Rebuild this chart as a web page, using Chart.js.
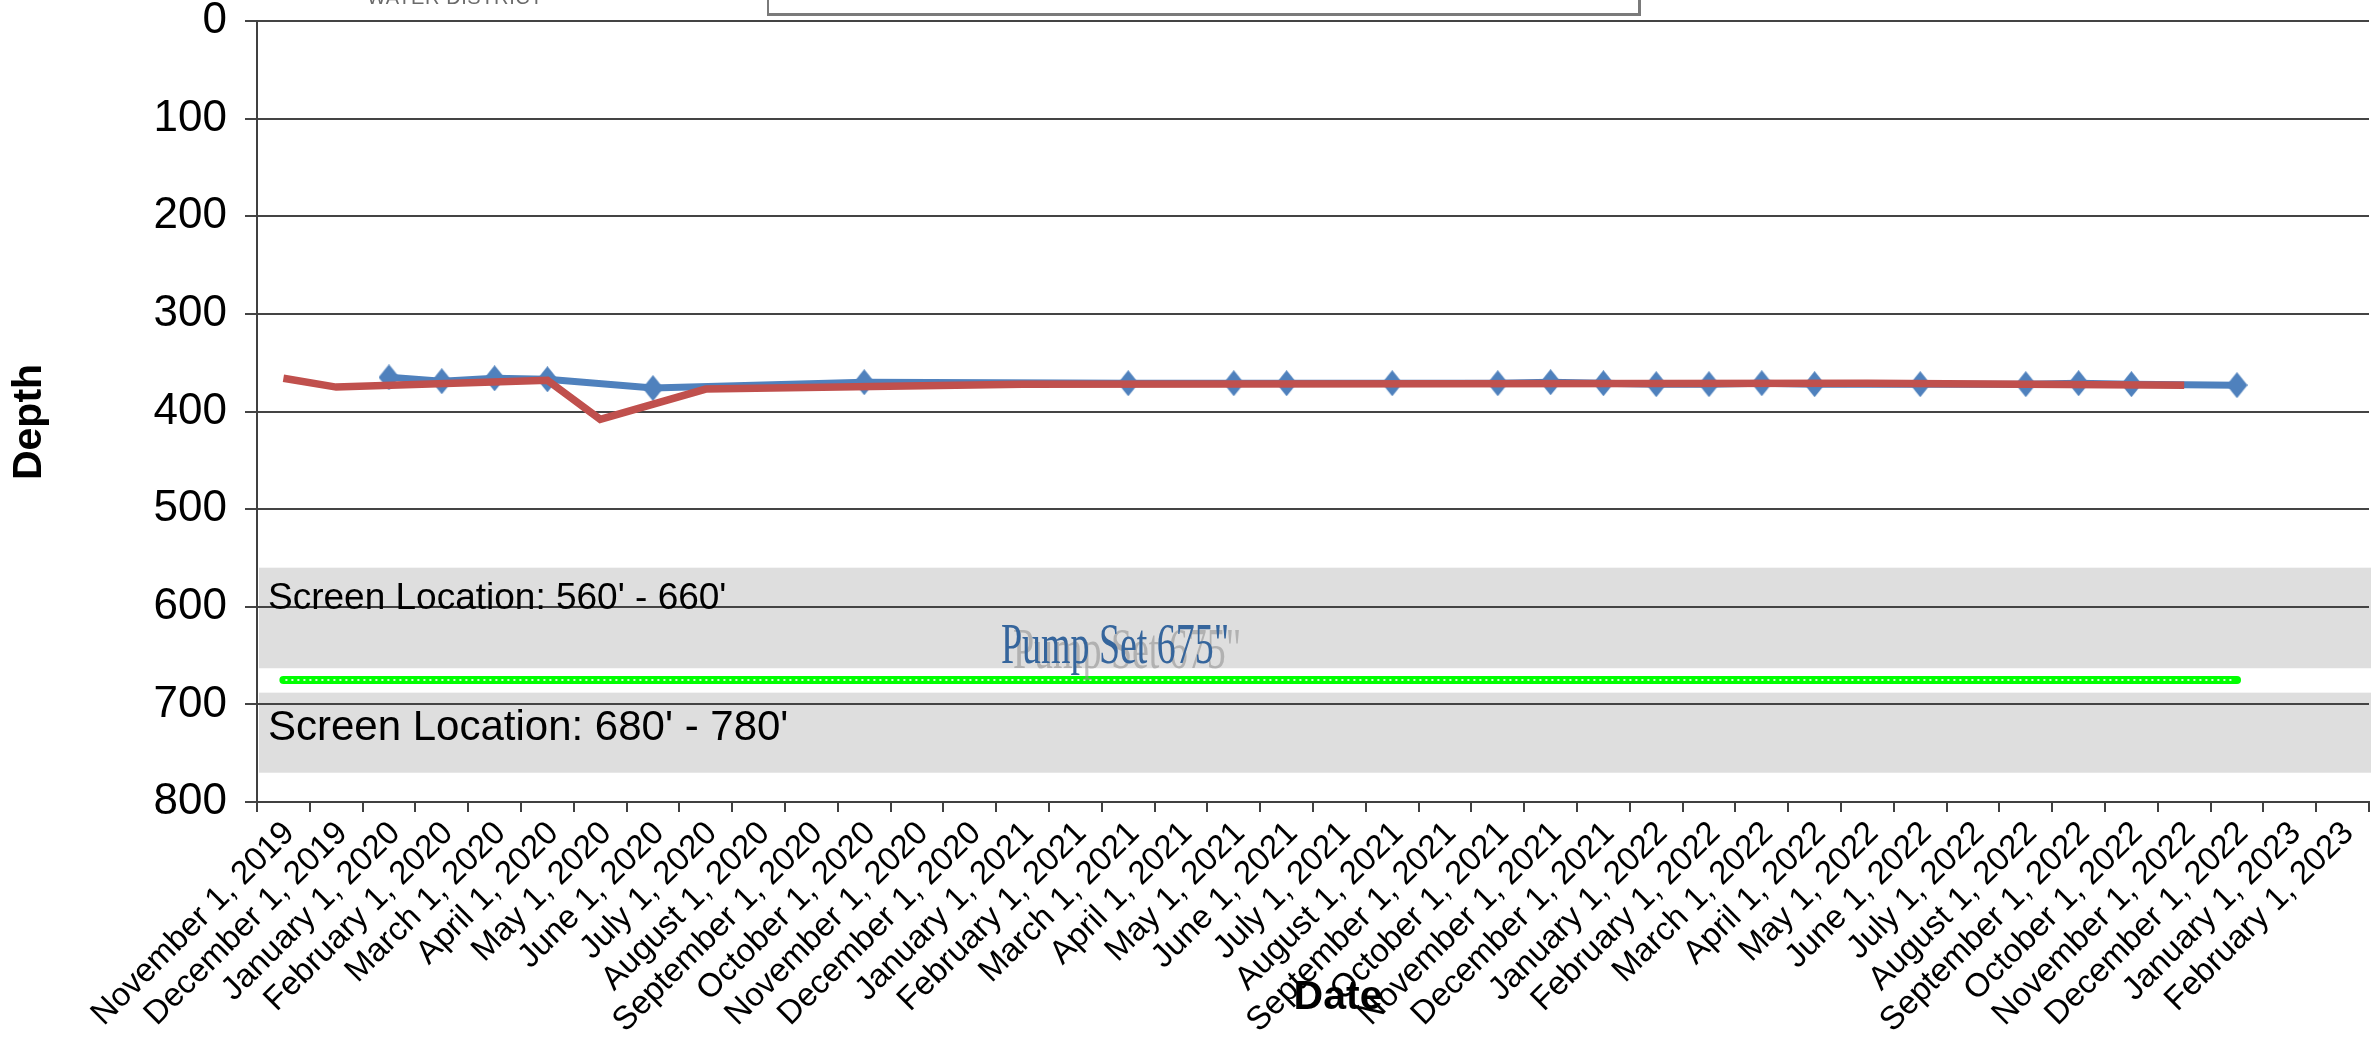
<!DOCTYPE html>
<html>
<head>
<meta charset="utf-8">
<script src="https://cdn.jsdelivr.net/npm/chart.js@4.4.1/dist/chart.umd.min.js"></script>
<style>
  html, body { margin: 0; padding: 0; background: #fff; overflow: hidden; }
  #wrap { position: relative; width: 2387px; height: 1037px; }
  #logo { position: absolute; left: 367px; top: -13px; font: 20px 'Liberation Sans', Arial, sans-serif; letter-spacing: 0.6px; color: #6b6b6b; line-height: 20px; white-space: nowrap; }
  #titlebox { position: absolute; left: 767px; top: -40px; width: 869px; height: 51px; border: 2px solid #7a7a7a; border-right-width: 3px; border-bottom-width: 3px; background: #fff; }
</style>
</head>
<body>
<div id="wrap">
  <canvas id="depth-chart"></canvas>
  <div id="logo">WATER DISTRICT</div>
  <div id="titlebox"></div>
</div>
<script>
// one category per month, points sit in the middle of their month
const months = [
  'November 1, 2019', 'December 1, 2019', 'January 1, 2020', 'February 1, 2020',
  'March 1, 2020', 'April 1, 2020', 'May 1, 2020', 'June 1, 2020', 'July 1, 2020',
  'August 1, 2020', 'September 1, 2020', 'October 1, 2020', 'November 1, 2020',
  'December 1, 2020', 'January 1, 2021', 'February 1, 2021', 'March 1, 2021',
  'April 1, 2021', 'May 1, 2021', 'June 1, 2021', 'July 1, 2021', 'August 1, 2021',
  'September 1, 2021', 'October 1, 2021', 'November 1, 2021', 'December 1, 2021',
  'January 1, 2022', 'February 1, 2022', 'March 1, 2022', 'April 1, 2022',
  'May 1, 2022', 'June 1, 2022', 'July 1, 2022', 'August 1, 2022',
  'September 1, 2022', 'October 1, 2022', 'November 1, 2022', 'December 1, 2022',
  'January 1, 2023', 'February 1, 2023'
]

// measured depth (blue, diamonds)
const measuredDepth = [
  null, null, 365, 369, 366, 367, null, 376, null, null,
  null, 370, null, null, null, null, 371, null, 371, 371,
  null, 371, null, 371, 370, 371, 372, 372, 371, 372,
  null, 372, null, 372, 371, 372, null, 373, null, null
]

// second depth record (red line)
const recordedDepth = [
  366, 375, null, null, null, 368, 408, null, 377, null,
  null, null, null, null, 372, null, null, null, null, null,
  null, null, null, null, null, null, null, null, null, null,
  371, null, null, null, null, null, 373, null, null, null
]

const pumpDepth = 675
const pumpFrom = 0
const pumpTo = 37
const pumpLine = months.map((m, i) => (i === pumpFrom || i === pumpTo) ? pumpDepth : null)

const depthTicks = [0, 100, 200, 300, 400, 500, 600, 700, 800]

// screen intervals drawn as grey bands
const screenBands = [[560, 663], [688, 770]]

// excel style diamond, a bit taller than wide
function diamond(w, h, color) {
  const c = document.createElement('canvas')
  c.width = w
  c.height = h
  const g = c.getContext('2d')
  g.fillStyle = color
  g.beginPath()
  g.moveTo(w / 2, 0)
  g.lineTo(w, h / 2)
  g.lineTo(w / 2, h)
  g.lineTo(0, h / 2)
  g.closePath()
  g.fill()
  return c
}

const bandsPlugin = {
  id: 'bands',
  beforeDraw(chart) {
    const {ctx, chartArea, scales: {y}} = chart
    ctx.save()
    ctx.fillStyle = '#dedede'
    screenBands.forEach(b => {
      const top = y.getPixelForValue(b[0])
      const bottom = y.getPixelForValue(b[1])
      ctx.fillRect(chartArea.left + 2, top, chartArea.right - chartArea.left, bottom - top)
    })
    ctx.restore()
  },
  afterDatasetsDraw(chart) {
    const {ctx} = chart
    const pts = chart.getDatasetMeta(2).data
    const a = pts[pumpFrom], b = pts[pumpTo]
    ctx.save()
    ctx.strokeStyle = 'rgba(255,255,255,0.85)'
    ctx.lineWidth = 2
    ctx.setLineDash([2, 4])
    ctx.beginPath()
    ctx.moveTo(a.x + 2, a.y)
    ctx.lineTo(b.x - 2, b.y)
    ctx.stroke()
    ctx.restore()
  },
  afterDraw(chart) {
    const {ctx, scales: {y}} = chart
    ctx.save()
    ctx.fillStyle = '#000'
    ctx.textBaseline = 'alphabetic'
    ctx.textAlign = 'left'
    ctx.font = "37px 'Liberation Sans', Arial, sans-serif"
    ctx.fillText("Screen Location: 560' - 660'", 268, y.getPixelForValue(602))
    ctx.font = "42px 'Liberation Sans', Arial, sans-serif"
    ctx.fillText("Screen Location: 680' - 780'", 268, y.getPixelForValue(736))

    // pump label, squeezed serif with a grey shadow
    const py = y.getPixelForValue(658)
    ctx.font = "57px 'Liberation Serif', 'Times New Roman', serif"
    ctx.save()
    ctx.translate(1013, py + 5)
    ctx.scale(0.665, 1)
    ctx.fillStyle = 'rgba(140,140,140,0.55)'
    ctx.fillText('Pump Set 675"', 0, 0)
    ctx.restore()
    ctx.save()
    ctx.translate(1001, py)
    ctx.scale(0.665, 1)
    ctx.fillStyle = '#35659c'
    ctx.fillText('Pump Set 675"', 0, 0)
    ctx.restore()

    // axis titles
    ctx.fillStyle = '#000'
    ctx.font = "bold 41px 'Liberation Sans', Arial, sans-serif"
    ctx.textAlign = 'center'
    ctx.textBaseline = 'middle'
    ctx.fillText('Date', 1338, 998)
    ctx.translate(30, 422)
    ctx.rotate(-Math.PI / 2)
    ctx.fillText('Depth', 0, 0)
    ctx.restore()
  }
}

const depthChartCanvas = document.getElementById('depth-chart')
let depthChart = new Chart(depthChartCanvas, {
  type: 'line',
  data: {
    labels: months,
    datasets: [{
      label: 'Recorded depth',
      data: recordedDepth,
      borderColor: '#c0504d',
      borderWidth: 7.5,
      pointRadius: 0,
      spanGaps: true,
      order: 0
    }, {
      label: 'Measured depth',
      data: measuredDepth,
      borderColor: '#4f81bd',
      backgroundColor: '#4f81bd',
      borderWidth: 7,
      pointStyle: diamond(21, 26, '#4f81bd'),
      pointRadius: 11,
      spanGaps: true,
      order: 1
    }, {
      label: 'Pump Set',
      data: pumpLine,
      borderColor: '#00ff00',
      borderWidth: 8,
      borderCapStyle: 'round',
      pointRadius: 0,
      spanGaps: true,
      order: 2
    }]
  },
  options: {
    responsive: true,
    maintainAspectRatio: false,
    animation: false,
    layout: { padding: { top: 21, left: 0, right: 0, bottom: 0 } },
    scales: {
      x: {
        type: 'category',
        offset: true,
        grid: { offset: true, drawOnChartArea: false, drawTicks: true, tickLength: 10, color: '#404040', lineWidth: 2 },
        border: { color: '#404040', width: 2 },
        ticks: {
          autoSkip: false,
          minRotation: 45,
          maxRotation: 45,
          padding: 2,
          labelOffset: 6,
          color: '#000',
          font: { family: "'Liberation Sans', Arial, sans-serif", size: 33 }
        },
        afterFit(scale) {
          scale.height = 235
          scale.paddingLeft = 0
          scale.paddingRight = 0
        }
      },
      y: {
        reverse: true,
        min: 0,
        max: 800,
        afterBuildTicks(scale) {
          scale.ticks = depthTicks.map(v => ({value: v}))
        },
        grid: { color: '#444', lineWidth: 2, tickLength: 12 },
        border: { color: '#404040', width: 2 },
        ticks: {
          padding: 18,
          color: '#000',
          font: { family: "'Liberation Sans', Arial, sans-serif", size: 44 }
        },
        afterFit(scale) {
          scale.width = 257
          scale.paddingTop = 0
          scale.paddingBottom = 0
        }
      }
    },
    plugins: {
      legend: { display: false },
      tooltip: { enabled: false }
    }
  },
  plugins: [bandsPlugin]
})
</script>
</body>
</html>
